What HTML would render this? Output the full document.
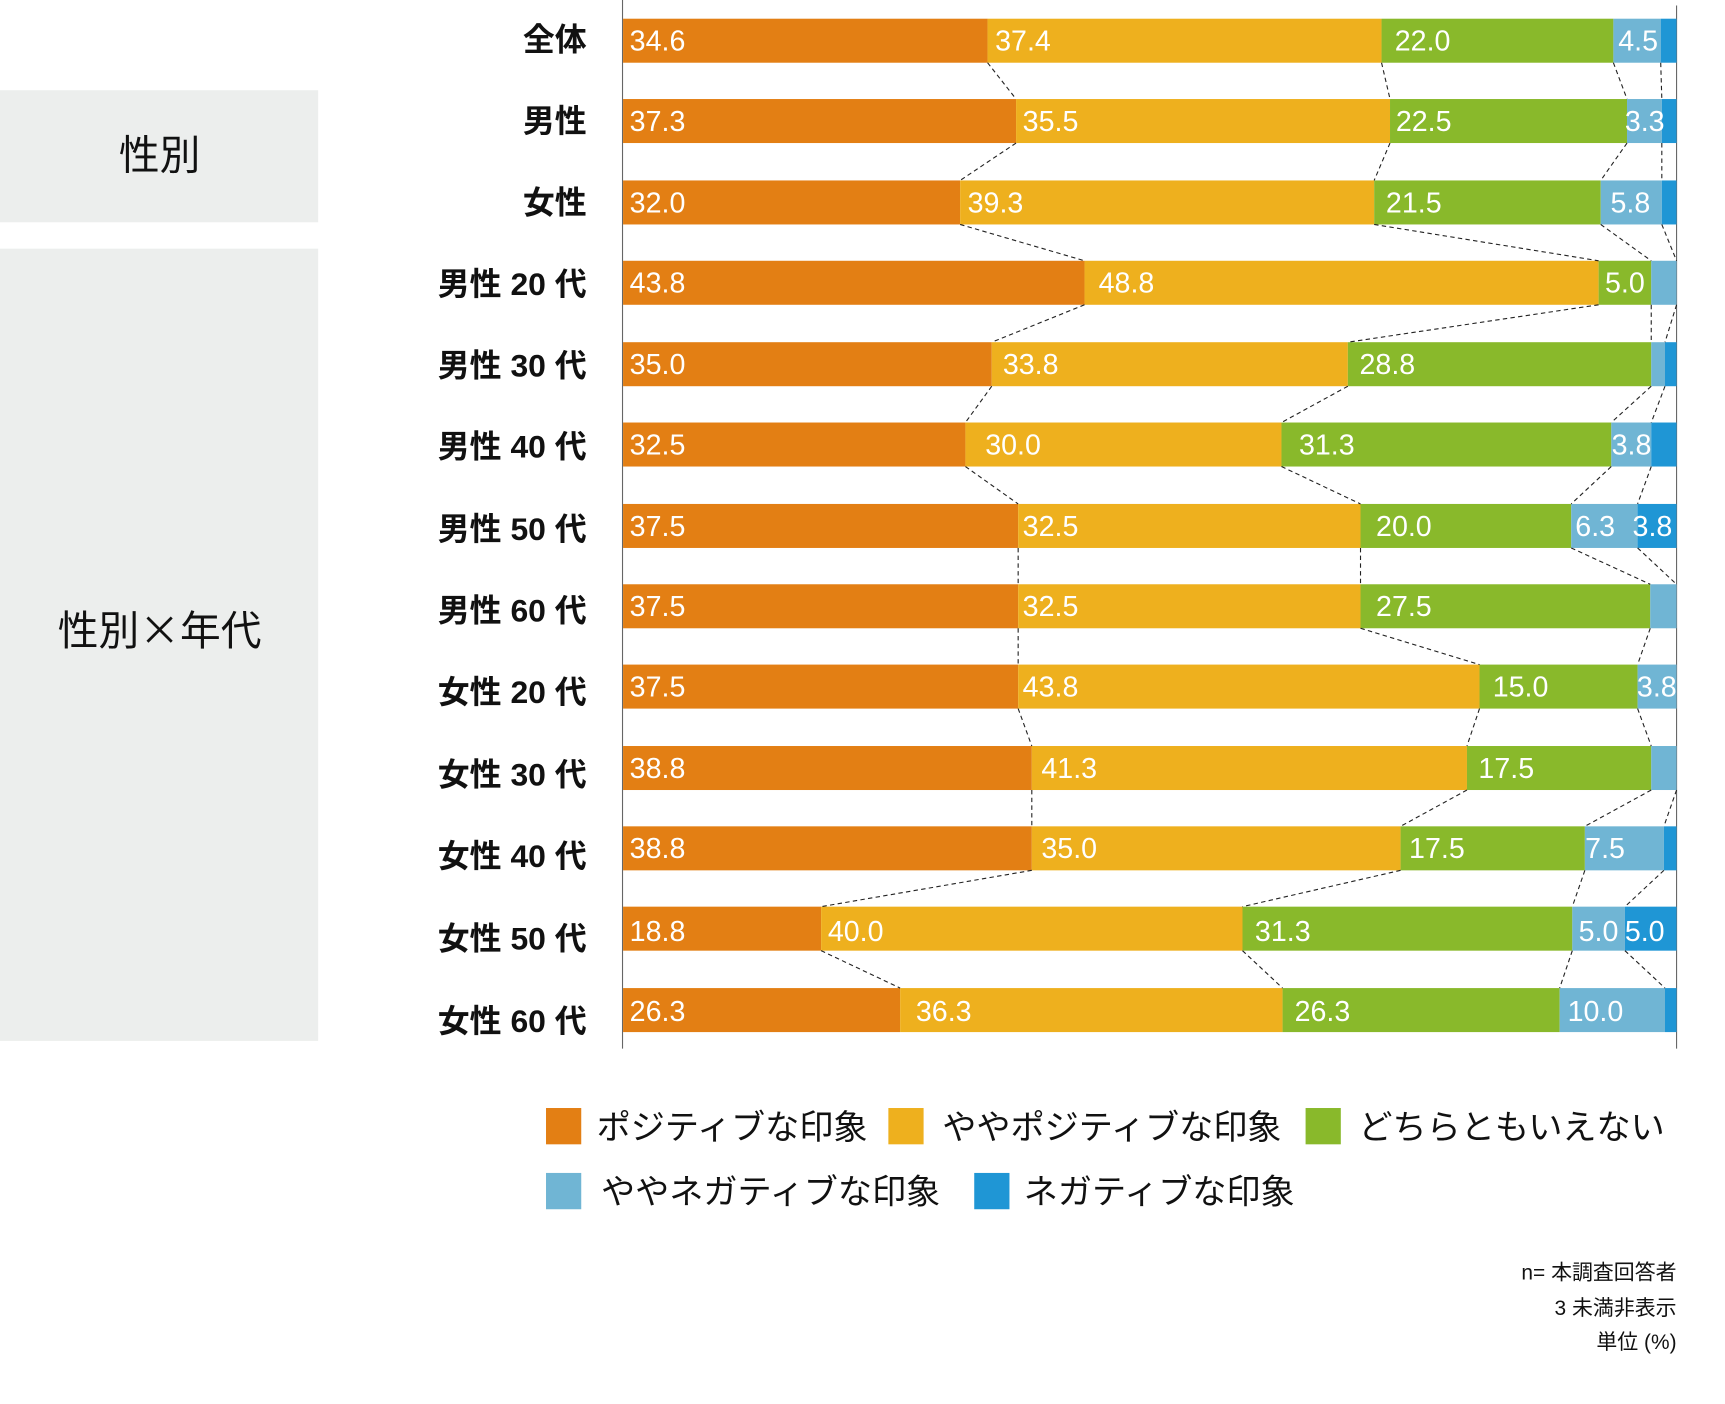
<!DOCTYPE html>
<html><head><meta charset="utf-8"><style>
html,body{margin:0;padding:0;background:#fff;}
svg{display:block;}
text{font-family:"Liberation Sans","Noto Sans CJK JP",sans-serif;}
.v{fill:#fff;font-size:26px;}
.l{fill:#111;font-size:29px;font-weight:bold;text-anchor:end;}
.g{fill:#111;font-size:37px;text-anchor:middle;font-family:"Noto Sans CJK JP",sans-serif;}
.lg{fill:#111;font-size:31px;}
.n{fill:#111;font-size:19px;text-anchor:end;}
.d{stroke:#222;stroke-width:1;stroke-dasharray:4,3;fill:none;}
</style></head><body>
<svg width="1725" height="1404" viewBox="0 0 1567 1276" preserveAspectRatio="none" xmlns="http://www.w3.org/2000/svg">
<rect x="0" y="82" width="289" height="120" fill="#eceeed"/>
<rect x="0" y="226" width="289" height="720" fill="#eceeed"/>
<text class="g" x="145" y="154">性別</text>
<text class="g" x="145" y="586">性別×年代</text>
<line x1="565.5" y1="0" x2="565.5" y2="953" stroke="#666" stroke-width="1"/>
<line x1="1523" y1="5" x2="1523" y2="953" stroke="#666" stroke-width="1"/>
<g>
<rect x="566" y="17" width="331.1" height="40" fill="#e37f14"/><rect x="897.1" y="17" width="357.9" height="40" fill="#eeb01e"/><rect x="1255" y="17" width="210.6" height="40" fill="#89b92b"/><rect x="1465.6" y="17" width="43" height="40" fill="#70b5d4"/><rect x="1508.6" y="17" width="14.4" height="40" fill="#1f96d5"/>
<rect x="566" y="90" width="357" height="40" fill="#e37f14"/><rect x="923" y="90" width="339.7" height="40" fill="#eeb01e"/><rect x="1262.7" y="90" width="215.3" height="40" fill="#89b92b"/><rect x="1478" y="90" width="31.6" height="40" fill="#70b5d4"/><rect x="1509.6" y="90" width="13.4" height="40" fill="#1f96d5"/>
<rect x="566" y="164" width="306.2" height="40" fill="#e37f14"/><rect x="872.2" y="164" width="376.1" height="40" fill="#eeb01e"/><rect x="1248.3" y="164" width="205.8" height="40" fill="#89b92b"/><rect x="1454.1" y="164" width="55.5" height="40" fill="#70b5d4"/><rect x="1509.6" y="164" width="13.4" height="40" fill="#1f96d5"/>
<rect x="566" y="237" width="419.2" height="40" fill="#e37f14"/><rect x="985.2" y="237" width="467" height="40" fill="#eeb01e"/><rect x="1452.2" y="237" width="47.8" height="40" fill="#89b92b"/><rect x="1500" y="237" width="23" height="40" fill="#70b5d4"/>
<rect x="566" y="311" width="334.9" height="40" fill="#e37f14"/><rect x="900.9" y="311" width="323.5" height="40" fill="#eeb01e"/><rect x="1224.4" y="311" width="275.6" height="40" fill="#89b92b"/><rect x="1500" y="311" width="12.5" height="40" fill="#70b5d4"/><rect x="1512.5" y="311" width="10.5" height="40" fill="#1f96d5"/>
<rect x="566" y="384" width="311" height="40" fill="#e37f14"/><rect x="877" y="384" width="287.1" height="40" fill="#eeb01e"/><rect x="1164.1" y="384" width="299.6" height="40" fill="#89b92b"/><rect x="1463.7" y="384" width="36.3" height="40" fill="#70b5d4"/><rect x="1500" y="384" width="23" height="40" fill="#1f96d5"/>
<rect x="566" y="458" width="358.9" height="40" fill="#e37f14"/><rect x="924.9" y="458" width="311" height="40" fill="#eeb01e"/><rect x="1235.9" y="458" width="191.4" height="40" fill="#89b92b"/><rect x="1427.3" y="458" width="60.3" height="40" fill="#70b5d4"/><rect x="1487.6" y="458" width="35.4" height="40" fill="#1f96d5"/>
<rect x="566" y="531" width="358.9" height="40" fill="#e37f14"/><rect x="924.9" y="531" width="311" height="40" fill="#eeb01e"/><rect x="1235.9" y="531" width="263.2" height="40" fill="#89b92b"/><rect x="1499.1" y="531" width="23.9" height="40" fill="#70b5d4"/>
<rect x="566" y="604" width="358.9" height="40" fill="#e37f14"/><rect x="924.9" y="604" width="419.1" height="40" fill="#eeb01e"/><rect x="1344" y="604" width="143.6" height="40" fill="#89b92b"/><rect x="1487.6" y="604" width="35.4" height="40" fill="#70b5d4"/>
<rect x="566" y="678" width="371.3" height="40" fill="#e37f14"/><rect x="937.3" y="678" width="395.3" height="40" fill="#eeb01e"/><rect x="1332.6" y="678" width="167.4" height="40" fill="#89b92b"/><rect x="1500" y="678" width="23" height="40" fill="#70b5d4"/>
<rect x="566" y="751" width="371.3" height="40" fill="#e37f14"/><rect x="937.3" y="751" width="335" height="40" fill="#eeb01e"/><rect x="1272.3" y="751" width="167.4" height="40" fill="#89b92b"/><rect x="1439.7" y="751" width="71.8" height="40" fill="#70b5d4"/><rect x="1511.5" y="751" width="11.5" height="40" fill="#1f96d5"/>
<rect x="566" y="824" width="179.9" height="40" fill="#e37f14"/><rect x="745.9" y="824" width="382.8" height="40" fill="#eeb01e"/><rect x="1128.7" y="824" width="299.6" height="40" fill="#89b92b"/><rect x="1428.3" y="824" width="47.8" height="40" fill="#70b5d4"/><rect x="1476.1" y="824" width="46.9" height="40" fill="#1f96d5"/>
<rect x="566" y="898" width="251.7" height="40" fill="#e37f14"/><rect x="817.7" y="898" width="347.4" height="40" fill="#eeb01e"/><rect x="1165.1" y="898" width="251.7" height="40" fill="#89b92b"/><rect x="1416.8" y="898" width="95.7" height="40" fill="#70b5d4"/><rect x="1512.5" y="898" width="10.5" height="40" fill="#1f96d5"/>
</g>
<g class="d">
<line x1="897.1" y1="57" x2="923" y2="90"/><line x1="1255" y1="57" x2="1262.7" y2="90"/><line x1="1465.6" y1="57" x2="1478" y2="90"/><line x1="1508.6" y1="57" x2="1509.6" y2="90"/>
<line x1="923" y1="130" x2="872.2" y2="164"/><line x1="1262.7" y1="130" x2="1248.3" y2="164"/><line x1="1478" y1="130" x2="1454.1" y2="164"/><line x1="1509.6" y1="130" x2="1509.6" y2="164"/>
<line x1="872.2" y1="204" x2="985.2" y2="237"/><line x1="1248.3" y1="204" x2="1452.2" y2="237"/><line x1="1454.1" y1="204" x2="1500" y2="237"/><line x1="1509.6" y1="204" x2="1523" y2="237"/>
<line x1="985.2" y1="277" x2="900.9" y2="311"/><line x1="1452.2" y1="277" x2="1224.4" y2="311"/><line x1="1500" y1="277" x2="1500" y2="311"/><line x1="1523" y1="277" x2="1512.5" y2="311"/>
<line x1="900.9" y1="351" x2="877" y2="384"/><line x1="1224.4" y1="351" x2="1164.1" y2="384"/><line x1="1500" y1="351" x2="1463.7" y2="384"/><line x1="1512.5" y1="351" x2="1500" y2="384"/>
<line x1="877" y1="424" x2="924.9" y2="458"/><line x1="1164.1" y1="424" x2="1235.9" y2="458"/><line x1="1463.7" y1="424" x2="1427.3" y2="458"/><line x1="1500" y1="424" x2="1487.6" y2="458"/>
<line x1="924.9" y1="498" x2="924.9" y2="531"/><line x1="1235.9" y1="498" x2="1235.9" y2="531"/><line x1="1427.3" y1="498" x2="1499.1" y2="531"/><line x1="1487.6" y1="498" x2="1523" y2="531"/>
<line x1="924.9" y1="571" x2="924.9" y2="604"/><line x1="1235.9" y1="571" x2="1344" y2="604"/><line x1="1499.1" y1="571" x2="1487.6" y2="604"/>
<line x1="924.9" y1="644" x2="937.3" y2="678"/><line x1="1344" y1="644" x2="1332.6" y2="678"/><line x1="1487.6" y1="644" x2="1500" y2="678"/>
<line x1="937.3" y1="718" x2="937.3" y2="751"/><line x1="1332.6" y1="718" x2="1272.3" y2="751"/><line x1="1500" y1="718" x2="1439.7" y2="751"/><line x1="1523" y1="718" x2="1511.5" y2="751"/>
<line x1="937.3" y1="791" x2="745.9" y2="824"/><line x1="1272.3" y1="791" x2="1128.7" y2="824"/><line x1="1439.7" y1="791" x2="1428.3" y2="824"/><line x1="1511.5" y1="791" x2="1476.1" y2="824"/>
<line x1="745.9" y1="864" x2="817.7" y2="898"/><line x1="1128.7" y1="864" x2="1165.1" y2="898"/><line x1="1428.3" y1="864" x2="1416.8" y2="898"/><line x1="1476.1" y1="864" x2="1512.5" y2="898"/>
</g>
<g>
<text class="l" x="533" y="46">全体</text>
<text class="l" x="533" y="120">男性</text>
<text class="l" x="533" y="194">女性</text>
<text class="l" x="533" y="268">男性 20 代</text>
<text class="l" x="533" y="342">男性 30 代</text>
<text class="l" x="533" y="416">男性 40 代</text>
<text class="l" x="533" y="491">男性 50 代</text>
<text class="l" x="533" y="565">男性 60 代</text>
<text class="l" x="533" y="639">女性 20 代</text>
<text class="l" x="533" y="714">女性 30 代</text>
<text class="l" x="533" y="788">女性 40 代</text>
<text class="l" x="533" y="863">女性 50 代</text>
<text class="l" x="533" y="938">女性 60 代</text>
</g>
<g class="v">
<text x="572" y="46">34.6</text><text x="904" y="46">37.4</text><text x="1267" y="46">22.0</text><text x="1470" y="46">4.5</text>
<text x="572" y="119">37.3</text><text x="929" y="119">35.5</text><text x="1268" y="119">22.5</text><text x="1476" y="119">3.3</text>
<text x="572" y="193">32.0</text><text x="879" y="193">39.3</text><text x="1259" y="193">21.5</text><text x="1463" y="193">5.8</text>
<text x="572" y="266">43.8</text><text x="998" y="266">48.8</text><text x="1458" y="266">5.0</text>
<text x="572" y="340">35.0</text><text x="911" y="340">33.8</text><text x="1235" y="340">28.8</text>
<text x="572" y="413">32.5</text><text x="895" y="413">30.0</text><text x="1180" y="413">31.3</text><text x="1464" y="413">3.8</text>
<text x="572" y="487">37.5</text><text x="929" y="487">32.5</text><text x="1250" y="487">20.0</text><text x="1431" y="487">6.3</text><text x="1483" y="487">3.8</text>
<text x="572" y="560">37.5</text><text x="929" y="560">32.5</text><text x="1250" y="560">27.5</text>
<text x="572" y="633">37.5</text><text x="929" y="633">43.8</text><text x="1356" y="633">15.0</text><text x="1487" y="633">3.8</text>
<text x="572" y="707">38.8</text><text x="946" y="707">41.3</text><text x="1343" y="707">17.5</text>
<text x="572" y="780">38.8</text><text x="946" y="780">35.0</text><text x="1280" y="780">17.5</text><text x="1440" y="780">7.5</text>
<text x="572" y="855">18.8</text><text x="752" y="855">40.0</text><text x="1140" y="855">31.3</text><text x="1434" y="855">5.0</text><text x="1476" y="855">5.0</text>
<text x="572" y="928">26.3</text><text x="832" y="928">36.3</text><text x="1176" y="928">26.3</text><text x="1424" y="928">10.0</text>
</g>
<g>
<rect x="496" y="1007" width="32" height="33" fill="#e37f14"/><text class="lg" x="542" y="1035">ポジティブな印象</text>
<rect x="807" y="1007" width="32" height="33" fill="#eeb01e"/><text class="lg" x="856" y="1035">ややポジティブな印象</text>
<rect x="1186" y="1007" width="32" height="33" fill="#89b92b"/><text class="lg" x="1234" y="1035">どちらともいえない</text>
<rect x="496" y="1066" width="32" height="33" fill="#70b5d4"/><text class="lg" x="546" y="1094">ややネガティブな印象</text>
<rect x="885" y="1066" width="32" height="33" fill="#1f96d5"/><text class="lg" x="930" y="1094">ネガティブな印象</text>
</g>
<text class="n" x="1523" y="1163">n= 本調査回答者</text>
<text class="n" x="1523" y="1195">3 未満非表示</text>
<text class="n" x="1523" y="1226">単位 (%)</text>
</svg>
</body></html>
